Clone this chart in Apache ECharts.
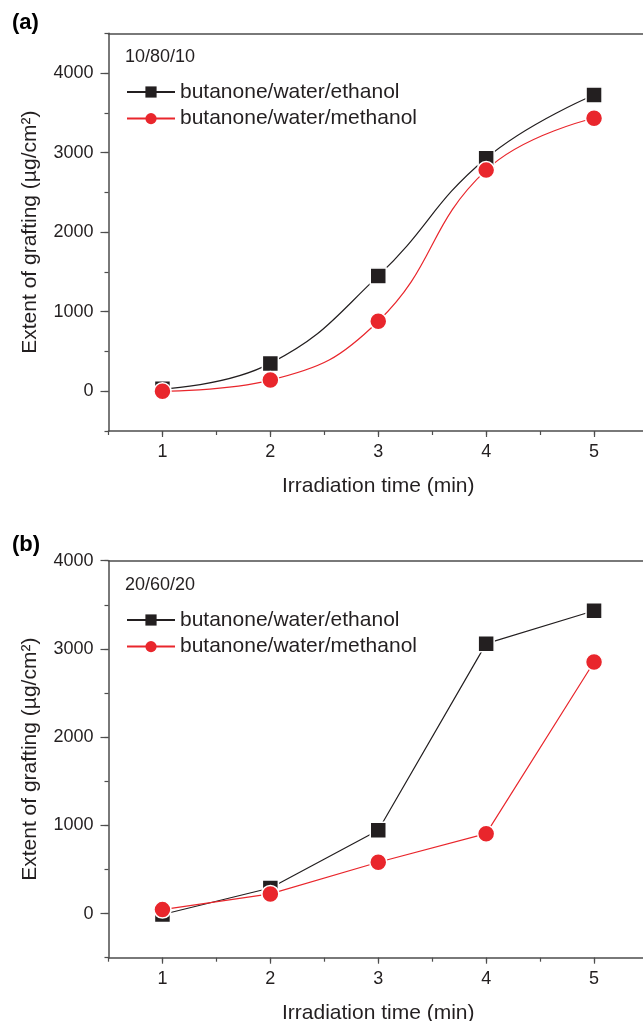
<!DOCTYPE html>
<html>
<head>
<meta charset="utf-8">
<script src="https://cdn.jsdelivr.net/npm/echarts@6/dist/echarts.min.js"></script>
<style>
html,body{margin:0;padding:0;background:#fff;}
#chart{width:643px;height:1021px;}
</style>
</head>
<body>
<div id="chart"></div>
<script>
// ---- data ----
const xValues = [1, 2, 3, 4, 5];
const ethanolA = [30, 350, 1450, 2930, 3725];
const methanolA = [0, 140, 880, 2780, 3432];
const ethanolB = [-10, 290, 944, 3060, 3433];
const methanolB = [45, 223, 582, 906, 2852];
const yMajorTicks = [0, 1000, 2000, 3000, 4000];
const xMajorTicks = [1, 2, 3, 4, 5];
const seriesNames = ['butanone/water/ethanol', 'butanone/water/methanol'];
const panelLabels = ['(a)', '(b)'];
const ratioLabels = ['10/80/10', '20/60/20'];
const xTitle = 'Irradiation time (min)';
const yTitle = 'Extent of grafting (\u00b5g/cm\u00b2)';

const FONT = '"Liberation Sans", Arial, sans-serif';
const AXIS = '#4d4d4d';
const BLACK = '#231f20';
const RED = '#e9262c';

const pairs = (ys) => xValues.map((x, i) => [x, ys[i]]);

const grids = [
  {left: 108.5, top: 33.3, width: 539.5, height: 397.7, outerBoundsMode: 'none', containLabel: false},
  {left: 108.5, top: 560.7, width: 539.5, height: 397, outerBoundsMode: 'none', containLabel: false}
];
const yRanges = [[-500, 4500], [-500, 4000]];

const xAxes = [], yAxes = [];
grids.forEach((g, i) => {
  xAxes.push({
    type: 'value', gridIndex: i, min: 0.5, max: 5.5, interval: 0.5, position: 'bottom',
    name: xTitle, nameLocation: 'middle', nameGap: 45,
    nameTextStyle: {fontFamily: FONT, fontSize: 21, color: '#231f20'},
    axisLine: {show: true, onZero: false, lineStyle: {color: AXIS, width: 1.5}},
    axisTick: {show: true, length: 4, lineStyle: {color: AXIS, width: 1.2}},
    axisLabel: {margin: 12, fontFamily: FONT, fontSize: 18, color: '#231f20',
      formatter: v => (Math.abs(v - Math.round(v)) < 1e-9 ? String(Math.round(v)) : '')},
    splitLine: {show: false}
  });
  xAxes.push({
    type: 'value', gridIndex: i, min: 0.5, max: 5.5, position: 'bottom',
    axisLine: {show: false, onZero: false},
    axisTick: {show: true, length: 6, customValues: xMajorTicks, lineStyle: {color: AXIS, width: 1.2}},
    axisLabel: {show: false}, splitLine: {show: false}
  });
  xAxes.push({
    type: 'value', gridIndex: i, min: 0.5, max: 5.5, position: 'top',
    axisLine: {show: true, onZero: false, lineStyle: {color: AXIS, width: 1.5}},
    axisTick: {show: false}, axisLabel: {show: false}, splitLine: {show: false}
  });
  yAxes.push({
    type: 'value', gridIndex: i, min: yRanges[i][0], max: yRanges[i][1], interval: 500, position: 'left',
    name: yTitle, nameLocation: 'middle', nameGap: 68,
    nameTextStyle: {fontFamily: FONT, fontSize: 21, color: '#231f20'},
    axisLine: {show: true, onZero: false, lineStyle: {color: AXIS, width: 1.5}},
    axisTick: {show: true, length: 4, lineStyle: {color: AXIS, width: 1.2}},
    axisLabel: {margin: 15, fontFamily: FONT, fontSize: 18, color: '#231f20',
      formatter: v => (v % 1000 === 0 ? String(v) : '')},
    splitLine: {show: false}
  });
  yAxes.push({
    type: 'value', gridIndex: i, min: yRanges[i][0], max: yRanges[i][1], position: 'left',
    axisLine: {show: false, onZero: false},
    axisTick: {show: true, length: 8, customValues: yMajorTicks, lineStyle: {color: AXIS, width: 1.2}},
    axisLabel: {show: false}, splitLine: {show: false}
  });
});

function mkSeries(name, data, panel, color, symbol, size, smooth) {
  return {
    name: name, type: 'line', xAxisIndex: panel * 3, yAxisIndex: panel * 2,
    data: pairs(data), smooth: smooth, symbol: symbol, symbolSize: size,
    lineStyle: {color: color, width: 1.2},
    itemStyle: {color: color, borderColor: '#fff', borderWidth: 1.5},
    emphasis: {disabled: true}, animation: false
  };
}

const series = [
  mkSeries(seriesNames[0], ethanolA, 0, BLACK, 'rect', 16, 0.45),
  mkSeries(seriesNames[1], methanolA, 0, RED, 'circle', 17, 0.45),
  mkSeries(seriesNames[0], ethanolB, 1, BLACK, 'rect', 16, false),
  mkSeries(seriesNames[1], methanolB, 1, RED, 'circle', 17, false)
];

const legendTops = [81.5, 609.5];
const legends = legendTops.map(t => ({
  orient: 'vertical', left: 126, top: t, padding: 0, itemWidth: 48, itemHeight: 14, itemGap: 5.6,
  data: seriesNames, selectedMode: false,
  itemStyle: {borderWidth: 0},
  textStyle: {fontFamily: FONT, fontSize: 21, color: '#231f20', lineHeight: 21}
}));

const labelYs = [[25, 58], [546.7, 586.5]];
const graphics = [];
labelYs.forEach((ys, i) => {
  graphics.push({type: 'text', left: 12, top: ys[0] - 13,
    style: {text: panelLabels[i], font: 'bold 22px ' + FONT, fill: '#000'}});
  graphics.push({type: 'text', left: 125, top: ys[1] - 10,
    style: {text: ratioLabels[i], font: '18px ' + FONT, fill: '#231f20'}});
});

const chart = echarts.init(document.getElementById('chart'), null, {renderer: 'canvas'});
chart.setOption({
  backgroundColor: '#fff',
  animation: false,
  grid: grids,
  xAxis: xAxes,
  yAxis: yAxes,
  legend: legends,
  series: series,
  graphic: graphics
});
</script>
</body>
</html>
